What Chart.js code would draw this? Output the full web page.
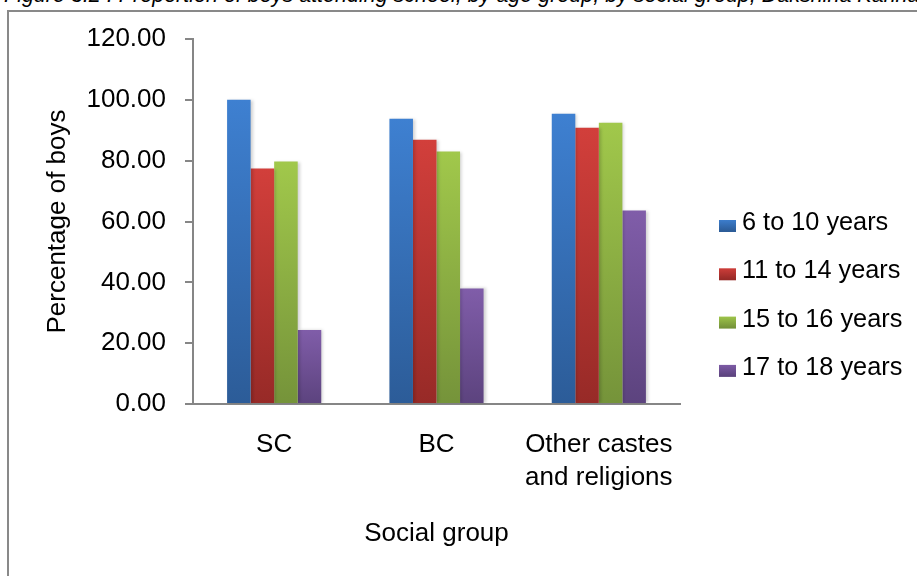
<!DOCTYPE html>
<html>
<head>
<meta charset="utf-8">
<script src="https://cdn.jsdelivr.net/npm/chart.js@4.4.1/dist/chart.umd.min.js"></script>
<style>
  html, body { margin: 0; padding: 0; background: #ffffff; overflow: hidden; }
  #wrap { position: relative; width: 917px; height: 576px; overflow: hidden; }
  #caption {
    position: absolute; left: 4px; top: -16px; white-space: nowrap;
    font-family: "Liberation Sans", Arial, sans-serif; font-style: italic;
    font-size: 21.5px; line-height: 22px; color: #000;
  }
  #frame {
    position: absolute; left: 7px; top: 10px; width: 1000px; height: 1000px;
    border: 2px solid #898989; box-sizing: border-box;
  }
  #chart { position: absolute; left: 0; top: 0; }
</style>
</head>
<body>
<div id="wrap">
  <div id="caption">Figure 3.2 : Proportion of boys attending school, by age group, by social group, Dakshina Kannada</div>
  <div id="frame"></div>
  <canvas id="chart" width="917" height="576"></canvas>
</div>
<script>
// Social groups on the x axis
const categories = ['SC', 'BC', ['Other castes', 'and religions']];

// Share of boys attending school (%) per age group
const age6to10 = [100.0, 93.8, 95.4];
const age11to14 = [77.4, 86.9, 90.8];
const age15to16 = [79.7, 83.0, 92.5];
const age17to18 = [24.3, 38.0, 63.6];

const seriesNames = ['6 to 10 years', '11 to 14 years', '15 to 16 years', '17 to 18 years'];

// y axis ticks
const yTicks = [0, 20, 40, 60, 80, 100, 120];

// top / bottom shades of each series
const shades = [
  ['#3e80d1', '#2c5c98'],
  ['#d23f3b', '#972a27'],
  ['#a1c84b', '#75933a'],
  ['#805da9', '#5c437e']
];

const FONT = '"Liberation Sans", Arial, sans-serif';

function barFill(idx) {
  return (ctx) => {
    const chart = ctx.chart;
    const area = chart.chartArea;
    if (!area || ctx.raw == null) return shades[idx][0];
    const yScale = chart.scales.y;
    const top = yScale.getPixelForValue(ctx.raw);
    const bottom = yScale.getPixelForValue(0);
    const g = chart.ctx.createLinearGradient(0, top, 0, bottom);
    g.addColorStop(0, shades[idx][0]);
    g.addColorStop(1, shades[idx][1]);
    return g;
  };
}

const seriesValues = [age6to10, age11to14, age15to16, age17to18];

const datasets = seriesValues.map((vals, i) => ({
  label: seriesNames[i],
  data: vals,
  backgroundColor: barFill(i),
  legendColor: shades[i],
  borderWidth: 0,
  categoryPercentage: 0.58,
  barPercentage: 1.0
}));

// soft drop shadow behind the bars
const barShadow = {
  id: 'barShadow',
  beforeDatasetsDraw(chart) {
    const c = chart.ctx;
    c.save();
    c.shadowColor = 'rgba(0,0,0,0.18)';
    c.shadowBlur = 3;
    c.shadowOffsetX = 2;
    c.shadowOffsetY = 0;
  },
  afterDatasetsDraw(chart) {
    chart.ctx.restore();
  }
};

// legend column to the right of the plot
const sideLegend = {
  id: 'sideLegend',
  afterDraw(chart) {
    const c = chart.ctx;
    const x0 = 719, y0 = 222, step = 48.3;
    c.save();
    c.font = '25.3px ' + FONT;
    c.textBaseline = 'middle';
    c.textAlign = 'left';
    chart.data.datasets.forEach((ds, i) => {
      const cy = y0 + i * step;
      const g = c.createLinearGradient(0, cy - 3, 0, cy + 9);
      g.addColorStop(0, ds.legendColor[0]);
      g.addColorStop(1, ds.legendColor[1]);
      c.fillStyle = g;
      c.fillRect(x0, cy - 2, 17, 12);
      c.fillStyle = '#000';
      c.fillText(ds.label, x0 + 23, cy + 1);
    });
    c.restore();
  }
};

new Chart(document.getElementById('chart'), {
  type: 'bar',
  data: { labels: categories, datasets },
  plugins: [barShadow, sideLegend],
  options: {
    responsive: false,
    animation: false,
    layout: { padding: { left: 20, right: 237, top: 39, bottom: 20 } },
    plugins: {
      legend: { display: false },
      tooltip: { enabled: false },
      title: { display: false }
    },
    scales: {
      x: {
        grid: { display: false, drawTicks: false },
        border: { display: true, color: '#868686', width: 2 },
        ticks: {
          color: '#000',
          font: { family: FONT, size: 26, lineHeight: 1.27 },
          padding: 24,
          maxRotation: 0
        },
        title: {
          display: true,
          text: 'Social group',
          color: '#000',
          font: { family: FONT, size: 26 },
          padding: { top: 0, bottom: 7 }
        },
        afterFit(scale) { scale.height = 152; }
      },
      y: {
        min: 0,
        max: 120,
        afterBuildTicks(scale) { scale.ticks = yTicks.map(v => ({ value: v })); },
        grid: {
          display: true,
          drawOnChartArea: false,
          drawTicks: true,
          tickLength: 8,
          color: '#868686',
          lineWidth: 2
        },
        border: { display: true, color: '#868686', width: 2 },
        ticks: {
          color: '#000',
          font: { family: FONT, size: 26 },
          padding: 19,
          callback: (v) => Number(v).toFixed(2)
        },
        title: {
          display: true,
          text: 'Percentage of boys',
          color: '#000',
          font: { family: FONT, size: 26 },
          padding: { top: 22, bottom: 0 }
        },
        afterFit(scale) { scale.width = 173; }
      }
    }
  }
});
</script>
</body>
</html>
